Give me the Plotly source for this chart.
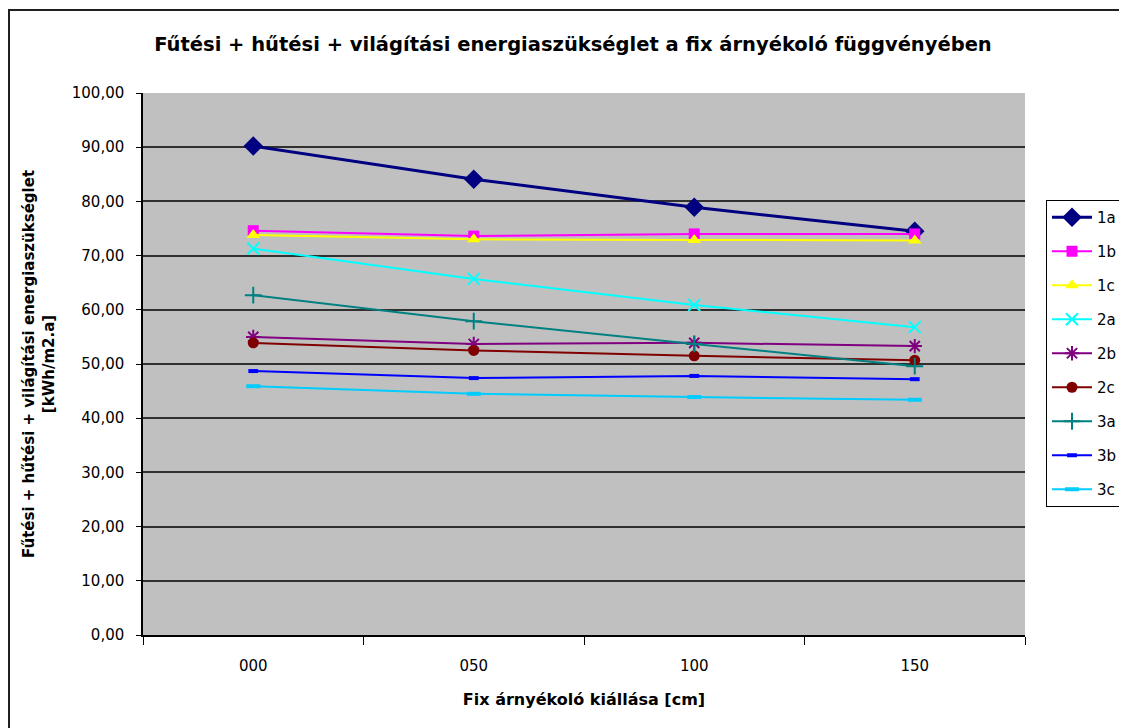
import plotly.graph_objects as go

# x categories (fix shading projection, cm)
categories = ["000", "050", "100", "150"]

# heating + cooling + lighting energy demand [kWh/m2.a] per variant
s_1a = [90.2, 84.1, 78.9, 74.5]
s_1b = [74.6, 73.6, 74.0, 74.0]
s_1c = [73.8, 73.0, 72.9, 72.8]
s_2a = [71.3, 65.7, 60.9, 56.8]
s_2b = [55.0, 53.7, 53.9, 53.3]
s_2c = [53.9, 52.5, 51.5, 50.7]
s_3a = [62.7, 57.9, 53.7, 49.6]
s_3b = [48.7, 47.4, 47.8, 47.2]
s_3c = [45.9, 44.5, 43.9, 43.4]

names = ["1a", "1b", "1c", "2a", "2b", "2c", "3a", "3b", "3c"]
series = [s_1a, s_1b, s_1c, s_2a, s_2b, s_2c, s_3a, s_3b, s_3c]

# styling for each series (Excel default palette look)
styles = {
    "1a": dict(color="#000080", symbol="diamond", size=15, lw=3, mlw=0),
    "1b": dict(color="#FF00FF", symbol="square", size=11, lw=2, mlw=0),
    "1c": dict(color="#FFFF00", symbol="triangle-up", size=12, lw=2, mlw=0),
    "2a": dict(color="#00FFFF", symbol="x-thin-open", size=12, lw=2, mlw=2),
    "2b": dict(color="#800080", symbol="asterisk-open", size=12, lw=2, mlw=2),
    "2c": dict(color="#800000", symbol="circle", size=11, lw=2, mlw=0),
    "3a": dict(color="#008080", symbol="cross-thin-open", size=12, lw=2, mlw=2),
    "3b": dict(color="#0000FF", symbol="line-ew-open", size=7, lw=2, mlw=4),
    "3c": dict(color="#00CCFF", symbol="line-ew-open", size=10, lw=2, mlw=4),
}

FONT = "DejaVu Sans, Liberation Sans, Arial, sans-serif"

fig = go.Figure()
for name, vals in zip(names, series):
    st = styles[name]
    fig.add_trace(go.Scatter(
        x=categories, y=vals, name=name, mode="lines+markers",
        legendgroup=name,
        line=dict(color=st["color"], width=st["lw"]),
        marker=dict(symbol=st["symbol"], size=st["size"], color=st["color"],
                    line=dict(color=st["color"], width=st["mlw"])),
    ))

# the page body adds an 8px offset, so work in figure pixels (screen - 8)
OFF = 8
WIDTH, HEIGHT = 1127, 728
# plot area on screen: x 143..1025, y 93..635
L, R, T, B = 143 - OFF, 1025 - OFF, 93 - OFF, 635 - OFF
W, H = R - L, B - T

def px_x(px):
    return (px - OFF - L) / W

def px_y(py):
    return (B - (py - OFF)) / H

fig.update_layout(
    width=WIDTH, height=HEIGHT,
    margin=dict(l=L, r=WIDTH - R, t=T, b=HEIGHT - B, autoexpand=False),
    paper_bgcolor="white",
    plot_bgcolor="#C0C0C0",
    separators=",.",
    font=dict(family=FONT, color="black", size=15),
    title=dict(
        text="<b>Fűtési + hűtési + világítási energiaszükséglet a fix árnyékoló függvényében</b>",
        x=(573 - OFF) / WIDTH, xanchor="center", xref="container",
        y=1 - (44 - OFF) / HEIGHT, yanchor="middle", yref="container",
        font=dict(size=19.5),
    ),
    showlegend=True,
    legend=dict(
        x=px_x(1046), y=px_y(200), xanchor="left", yanchor="top",
        bgcolor="white", bordercolor="black", borderwidth=1,
        font=dict(size=15), itemwidth=40, tracegroupgap=11.5,
    ),
    shapes=[
        dict(type="rect", xref="paper", yref="paper",
             x0=px_x(9), x1=px_x(1140), y0=px_y(740), y1=px_y(10),
             line=dict(color="#202020", width=2), fillcolor="rgba(0,0,0,0)",
             layer="below"),
    ],
)

fig.update_xaxes(
    type="category", range=[-0.5, 3.5],
    tickson="boundaries", ticks="outside", ticklen=8, tickcolor="black",
    ticklabelstandoff=16,
    showgrid=False, showline=True, linecolor="black", linewidth=1.5,
    tickfont=dict(size=15),
    title=dict(text="<b>Fix árnyékoló kiállása [cm]</b>", font=dict(size=16), standoff=20),
)

fig.update_yaxes(
    range=[0, 100], dtick=10, tickformat=".2f",
    ticks="outside", ticklen=5, tickcolor="black",
    ticklabelstandoff=9,
    showgrid=True, gridcolor="#303030", gridwidth=1.5,
    showline=True, linecolor="black", linewidth=1.5, mirror=False,
    zeroline=False,
    tickfont=dict(size=15),
    title=dict(text="<b>Fűtési + hűtési + világítási energiaszükséglet<br>[kWh/m2.a]</b>",
               font=dict(size=15), standoff=14),
)

fig.write_html("out.html")
